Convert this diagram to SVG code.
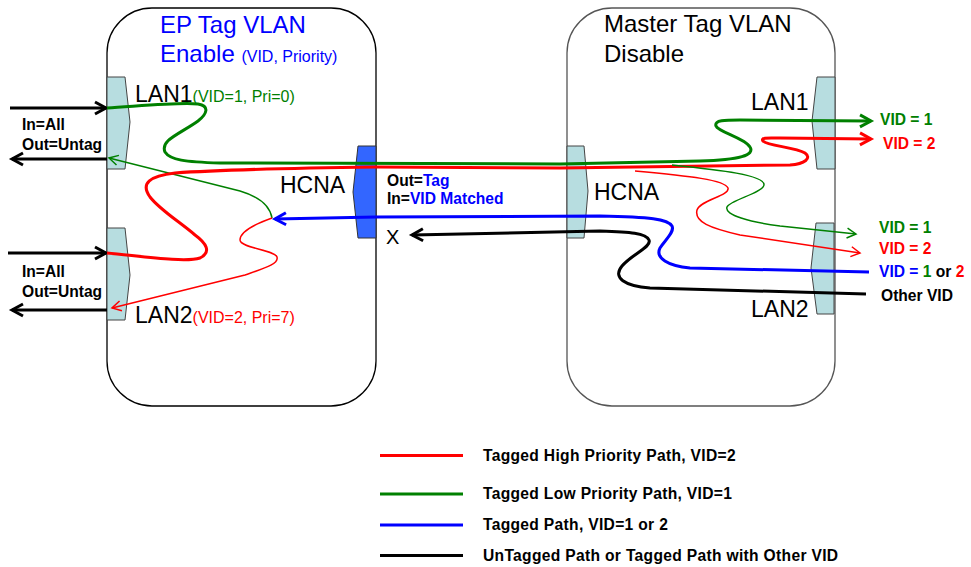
<svg xmlns="http://www.w3.org/2000/svg" width="971" height="567" viewBox="0 0 971 567">
<style>
.box{fill:#fff;stroke:#000;stroke-width:1.3}
.box2{fill:#fff;stroke:#555;stroke-width:1.3}
.port{fill:#B7DDE0;stroke:#444;stroke-width:1}
.hcnaL{fill:#3366FF;stroke:#333;stroke-width:1}
.big{font-family:"Liberation Sans",Arial,sans-serif;font-size:23px;fill:#000}
.title{font-family:"Liberation Sans",Arial,sans-serif;font-size:24px}
.small{font-family:"Liberation Sans",Arial,sans-serif;font-size:16px}
.lbl{font-family:"Liberation Sans",Arial,sans-serif;font-size:15.6px;font-weight:bold;fill:#000}
.leg{letter-spacing:0.32px}
.thick{fill:none;stroke-width:3}
.thin{fill:none;stroke-width:1.5}
.k{stroke:#000}.r{stroke:#FF0000}.g{stroke:#008000}.b{stroke:#0000FF}
.tr{fill:#FF0000}.tg{fill:#008000}.tb{fill:#0000FF}
</style>
<defs>
<marker id="ak" markerUnits="userSpaceOnUse" markerWidth="20" markerHeight="20" refX="14" refY="10" orient="auto" overflow="visible"><path d="M3,4 L14,10 L3,16" fill="none" stroke="#000" stroke-width="3"/></marker>
<marker id="ag" markerUnits="userSpaceOnUse" markerWidth="20" markerHeight="20" refX="14" refY="10" orient="auto" overflow="visible"><path d="M3,4 L14,10 L3,16" fill="none" stroke="#008000" stroke-width="3"/></marker>
<marker id="ar" markerUnits="userSpaceOnUse" markerWidth="20" markerHeight="20" refX="14" refY="10" orient="auto" overflow="visible"><path d="M3,4 L14,10 L3,16" fill="none" stroke="#FF0000" stroke-width="3"/></marker>
<marker id="ab" markerUnits="userSpaceOnUse" markerWidth="20" markerHeight="20" refX="14" refY="10" orient="auto" overflow="visible"><path d="M3,4 L14,10 L3,16" fill="none" stroke="#0000FF" stroke-width="3"/></marker>
<marker id="tg" markerUnits="userSpaceOnUse" markerWidth="20" markerHeight="20" refX="12" refY="10" orient="auto" overflow="visible"><path d="M3,5 L12,10 L3,15" fill="none" stroke="#008000" stroke-width="1.5"/></marker>
<marker id="trm" markerUnits="userSpaceOnUse" markerWidth="20" markerHeight="20" refX="12" refY="10" orient="auto" overflow="visible"><path d="M3,5 L12,10 L3,15" fill="none" stroke="#FF0000" stroke-width="1.5"/></marker>
</defs>

<g id="ep-box">
<rect class="box" x="107" y="8" width="269" height="398" rx="45" ry="45"/>
<text class="title tb" x="160" y="33">EP Tag VLAN</text>
<text class="title tb" x="160" y="62">Enable <tspan class="small">(VID, Priority)</tspan></text>
</g>
<g id="master-box">
<rect class="box2" x="567" y="8" width="268" height="398" rx="45" ry="45"/>
<text class="title" x="604" y="32">Master Tag VLAN</text>
<text class="title" x="604" y="62">Disable</text>
</g>

<g id="ep-lan1">
<polygon class="port" points="107,77 125,77 130,122 125,169 107,169"/>
<text class="big" x="135" y="102">LAN1<tspan class="small tg">(VID=1, Pri=0)</tspan></text>
</g>
<g id="ep-lan2">
<polygon class="port" points="107,228 125,228 130,275 125,320 107,320"/>
<text class="big" x="135" y="323">LAN2<tspan class="small tr">(VID=2, Pri=7)</tspan></text>
</g>
<g id="ep-hcna">
<polygon class="hcnaL" points="358,146 376,146 376,238 358,238 353,192"/>
<text class="big" x="280" y="193">HCNA</text>
</g>
<g id="master-hcna">
<polygon class="port" points="567,146 584,146 588,191 584,238 567,238"/>
<text class="big" x="594" y="200">HCNA</text>
</g>
<g id="master-lan1">
<polygon class="port" points="835,77 817,77 812,121 817,169 835,169"/>
<text class="big" x="751" y="110">LAN1</text>
</g>
<g id="master-lan2">
<polygon class="port" points="834,223 816,223 811,268 817,314 834,314"/>
<text class="big" x="751" y="317">LAN2</text>
</g>

<g id="connectors">
<path class="thick k" d="M10,108 L106,108" marker-end="url(#ak)"/>
<path class="thick k" d="M107,159 L12,159" marker-end="url(#ak)"/>
<path class="thick k" d="M8,253 L106,253" marker-end="url(#ak)"/>
<path class="thick k" d="M107,310 L12,310" marker-end="url(#ak)"/>

<path class="thin g" d="M272,218 C270,206 260,197 240,191 L109,158" marker-end="url(#tg)"/>
<path class="thin r" d="M272,218 C255,224 240,232 240,240 C240,248 275,250 277,257 C279,264 265,268 245,275 L112,308" marker-end="url(#trm)"/>

<path class="thick g" d="M107,108 C140,106 180,102 198,104 C210,106 207,114 198,121 C180,134 160,140 165,152 C170,160 185,162 220,163 L560,164 L700,161 C740,160 755,155 750,147 C745,138 718,132 716,126 C714,120 725,120 740,120 L871,121" marker-end="url(#ag)"/>
<path class="thick r" d="M107,253 C140,256 185,263 200,258 C212,252 206,243 195,235 C180,222 160,210 150,197 C140,183 150,176 175,173 C230,169 300,168 376,167 L560,168 L790,165 C805,164 812,158 805,153 C795,147 768,146 763,141 C760,137 770,138 780,138 L871,139" marker-end="url(#ar)"/>

<path class="thin g" d="M672,165 C720,170 765,175 764,185 C763,193 730,200 727,207 C724,215 750,222 780,226 L856,234" marker-end="url(#tg)"/>
<path class="thin r" d="M635,171 C690,176 725,180 728,188 C730,196 700,200 697,210 C694,222 710,228 740,235 L860,253" marker-end="url(#trm)"/>

<path class="thick b" d="M869,272 L690,268 C668,266 655,258 660,248 C665,240 675,232 672,226 C668,219 650,217 600,216 L376,217 L275,219" marker-end="url(#ab)"/>
<path class="thick k" d="M866,294 L650,288 C625,286 612,278 622,266 C632,254 652,247 649,240 C646,233 630,232 600,231 L412,235" marker-end="url(#ak)"/>
</g>

<g id="labels">
<text class="lbl" x="22" y="130">In=All</text>
<text class="lbl" x="22" y="150">Out=Untag</text>
<text class="lbl" x="22" y="277">In=All</text>
<text class="lbl" x="22" y="297">Out=Untag</text>
<text class="lbl" x="387" y="186">Out=<tspan class="tb">Tag</tspan></text>
<text class="lbl" x="387" y="204">In=<tspan class="tb">VID Matched</tspan></text>
<text x="386" y="244" style="font-family:'Liberation Sans',Arial,sans-serif;font-size:20px;fill:#000">X</text>
<text class="lbl tg" x="880" y="125">VID = 1</text>
<text class="lbl tr" x="883" y="149">VID = 2</text>
<text class="lbl tg" x="879" y="233">VID = 1</text>
<text class="lbl tr" x="879" y="254">VID = 2</text>
<text class="lbl" x="879" y="277"><tspan class="tb">VID = </tspan><tspan class="tg">1</tspan> or <tspan class="tr">2</tspan></text>
<text class="lbl" x="881" y="301">Other VID</text>
</g>

<g id="legend">
<line class="thick r" x1="380" y1="455.5" x2="463" y2="455.5"/>
<line class="thick g" x1="380" y1="494" x2="463" y2="494"/>
<line class="thick b" x1="380" y1="525" x2="463" y2="525"/>
<line class="thick k" x1="380" y1="555.5" x2="463" y2="555.5"/>
<text class="lbl leg" x="483" y="461">Tagged High Priority Path, VID=2</text>
<text class="lbl leg" x="483" y="499">Tagged Low Priority Path, VID=1</text>
<text class="lbl leg" x="483" y="530">Tagged Path, VID=1 or 2</text>
<text class="lbl leg" x="483" y="561">UnTagged Path or Tagged Path with Other VID</text>
</g>
</svg>
